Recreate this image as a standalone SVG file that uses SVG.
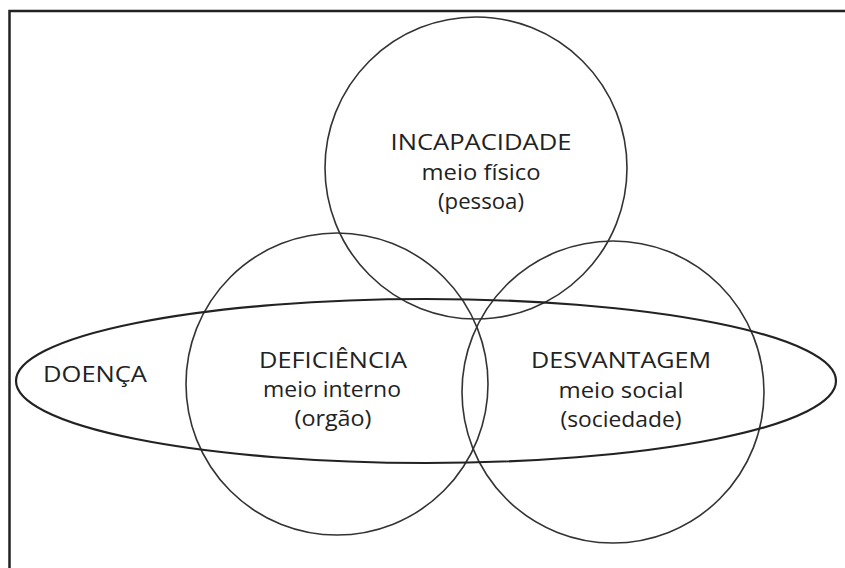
<svg xmlns="http://www.w3.org/2000/svg" width="845" height="568" viewBox="0 0 845 568">
<style>
.c{fill:none;stroke:#333;stroke-width:1.6}
.e{fill:none;stroke:#222;stroke-width:2.2}
.t{font-family:"Open Sans","Noto Sans","Liberation Sans",sans-serif;font-size:21px;fill:#222;text-anchor:middle}
</style>
<rect x="0" y="0" width="845" height="568" fill="#fff"/>
<path d="M9.5 568 V11 H845" fill="none" stroke="#222" stroke-width="2.5"/>
<g id="incapacidade">
<circle class="c" cx="476" cy="168" r="151"/>
<text class="t" x="481" y="150" textLength="181" lengthAdjust="spacingAndGlyphs">INCAPACIDADE</text>
<text class="t" x="481" y="180" textLength="119" lengthAdjust="spacingAndGlyphs">meio físico</text>
<text class="t" x="481" y="209" textLength="86" lengthAdjust="spacingAndGlyphs">(pessoa)</text>
</g>
<g id="deficiencia">
<circle class="c" cx="337" cy="384" r="151"/>
<text class="t" x="333" y="368" textLength="148" lengthAdjust="spacingAndGlyphs">DEFICIÊNCIA</text>
<text class="t" x="332" y="397" textLength="138" lengthAdjust="spacingAndGlyphs">meio interno</text>
<text class="t" x="333" y="426" textLength="77" lengthAdjust="spacingAndGlyphs">(orgão)</text>
</g>
<g id="desvantagem">
<circle class="c" cx="613" cy="392" r="151"/>
<text class="t" x="621" y="368" textLength="180" lengthAdjust="spacingAndGlyphs">DESVANTAGEM</text>
<text class="t" x="621" y="398" textLength="125" lengthAdjust="spacingAndGlyphs">meio social</text>
<text class="t" x="621" y="427" textLength="121" lengthAdjust="spacingAndGlyphs">(sociedade)</text>
</g>
<g id="doenca">
<ellipse class="e" cx="426" cy="381" rx="410" ry="82"/>
<text class="t" x="95" y="382" textLength="104" lengthAdjust="spacingAndGlyphs">DOENÇA</text>
</g>
</svg>
